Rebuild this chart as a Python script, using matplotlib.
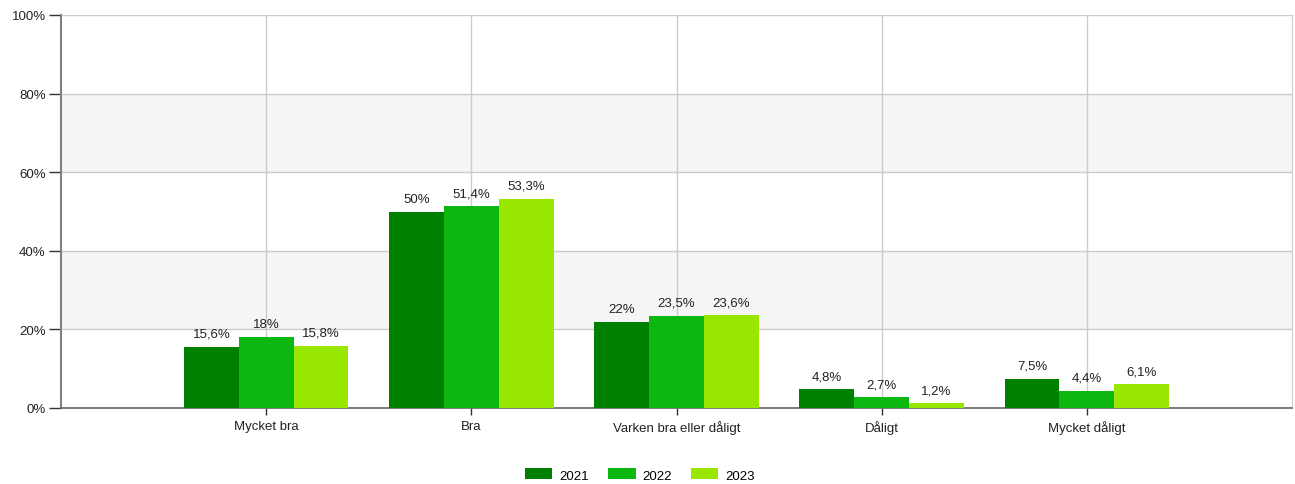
import numpy as np
import matplotlib.pyplot as plt
from matplotlib.patches import Patch

plt.rcParams['font.family'] = ['Liberation Sans', 'DejaVu Sans']

categories = ['Mycket bra', 'Bra', 'Varken bra eller dåligt', 'Dåligt', 'Mycket dåligt']
years = ['2021', '2022', '2023']
v2021 = [15.6, 50.0, 22.0, 4.8, 7.5]
v2022 = [18.0, 51.4, 23.5, 2.7, 4.4]
v2023 = [15.8, 53.3, 23.6, 1.2, 6.1]
colors = ['#008000', '#0cb80f', '#99e600']

fig = plt.figure(figsize=(12.95, 4.85), dpi=100)
ax = fig.add_axes([61 / 1295, 1 - 409 / 485, 1231 / 1295, 393 / 485])

# bakgrundsband
for lo, hi in [(20, 40), (60, 80)]:
    ax.axhspan(lo, hi, color='#f5f5f5', zorder=0, lw=0)

x = np.arange(1, len(categories) + 1)
w = 0.267
for i, (vals, c) in enumerate(zip([v2021, v2022, v2023], colors)):
    pos = x + (i - 1) * w
    ax.bar(pos, vals, width=w, color=c, zorder=3, linewidth=0)
    for p, v in zip(pos, vals):
        lbl = f'{v:g}'.replace('.', ',') + '%'
        ax.annotate(lbl, (p, v), xytext=(0, 5), textcoords='offset points',
                    ha='center', va='bottom', fontsize=9.5, color='#222222', zorder=4)

ax.set_xlim(0, 6)
ax.set_ylim(0, 100)
ax.set_yticks(range(0, 101, 20))
ax.set_yticklabels([f'{t}%' for t in range(0, 101, 20)], fontsize=9.5, color='#222222')
ax.set_xticks(x)
ax.set_xticklabels(categories, fontsize=9.5, color='#222222')
ax.grid(True, color='#cccccc', lw=1, zorder=1)
ax.tick_params(axis='y', length=9, width=1, color='#333333', pad=2)
ax.tick_params(axis='x', length=5, width=1, color='#333333', pad=4)

ax.spines['top'].set_visible(False)
ax.spines['right'].set_color('#cccccc')
ax.spines['left'].set_color('#808080')
ax.spines['left'].set_linewidth(1.5)
ax.spines['bottom'].set_color('#666666')
ax.spines['bottom'].set_linewidth(1.2)

handles = [Patch(facecolor=c, label=y) for c, y in zip(colors, years)]
fig.legend(handles=handles, loc='center', bbox_to_anchor=(640 / 1295, 1 - 476 / 485),
           ncol=3, frameon=False, fontsize=9.5, handlelength=2.05, handleheight=0.9,
           columnspacing=1.5, handletextpad=0.5)

fig.savefig('out.png', dpi=100)
